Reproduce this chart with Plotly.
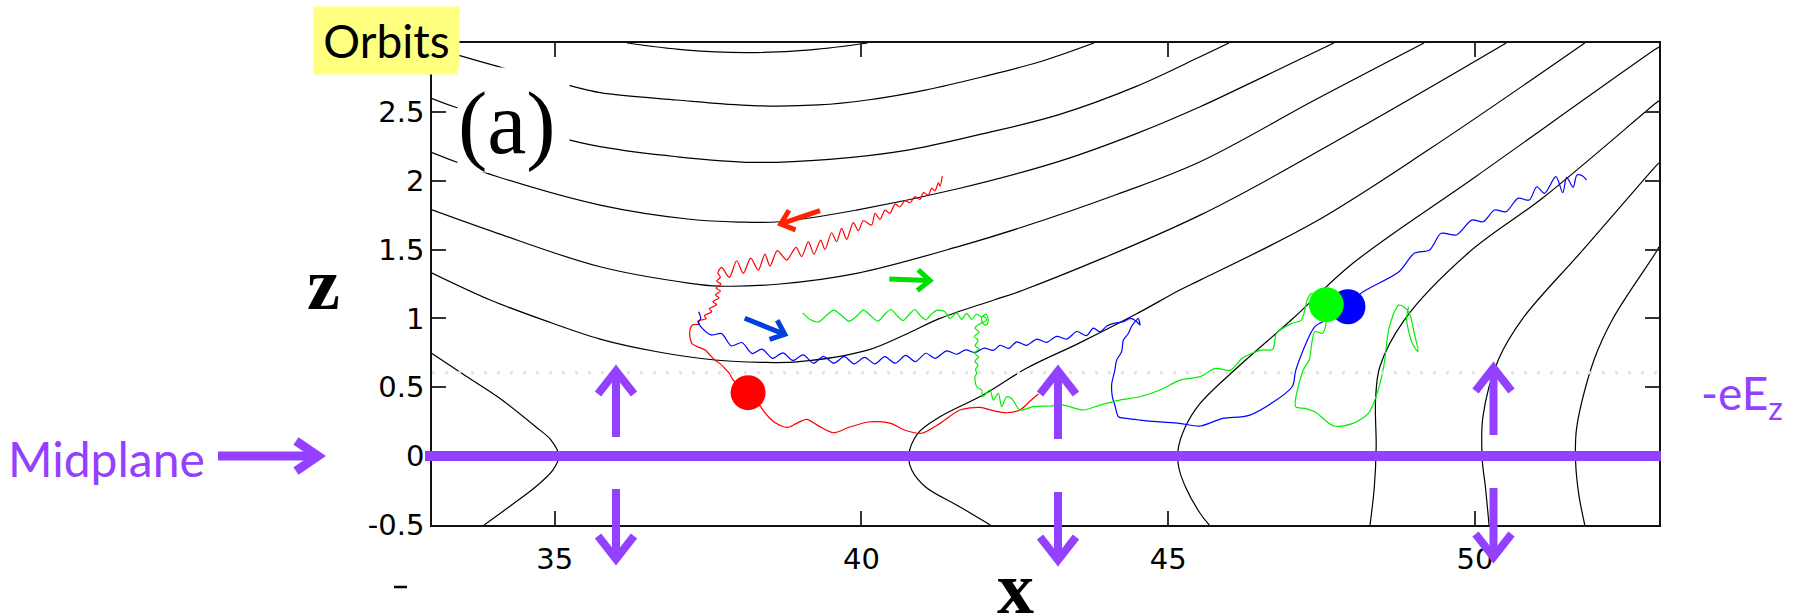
import plotly.graph_objects as go

# ---------------- axes ----------------
X_RANGE = [33, 53]
Y_RANGE = [-0.5, 3.0]
X_TICKS = [35, 40, 45, 50]
Y_TICKS = [-0.5, 0, 0.5, 1, 1.5, 2, 2.5]
Y_TICK_TEXT = ["-0.5", "0", "0.5", "1", "1.5", "2", "2.5"]

# ---------------- magnetic field lines (x, z) ----------------
field_line_top = [(36.18, 3.0), (37.11, 2.95), (38.11, 2.93), (39.17, 2.95), (40.10, 3.0)]
field_line_1 = [(33.0, 2.97), (33.44, 2.91), (34.07, 2.83), (35.25, 2.69), (35.74, 2.64), (36.99, 2.586),
                (38.23, 2.545), (39.3, 2.55), (40.10, 2.586), (41.04, 2.658), (41.98, 2.755), (42.91, 2.864),
                (43.79, 3.0)]
field_line_2 = [(33.0, 2.597), (33.41, 2.53), (35.25, 2.295), (35.74, 2.247), (36.99, 2.174), (38.23, 2.133),
                (39.48, 2.155), (40.73, 2.22), (41.97, 2.34), (43.22, 2.48), (44.47, 2.683), (45.52, 2.90),
                (45.99, 3.0)]
field_line_3 = [(33.0, 2.205), (33.41, 2.134), (34.07, 2.029), (35.74, 1.823), (37.205, 1.720), (38.0, 1.70),
                (38.672, 1.702), (39.92, 1.787), (41.606, 1.945), (43.22, 2.14), (44.47, 2.34), (45.52, 2.537),
                (46.61, 2.767), (47.70, 3.0)]
field_line_4 = [(33.0, 1.788), (34.07, 1.618), (35.74, 1.375), (37.205, 1.255), (37.667, 1.235), (38.672, 1.25),
                (39.92, 1.327), (41.606, 1.525), (42.60, 1.66), (44.16, 1.90), (45.52, 2.138), (47.39, 2.586),
                (49.17, 3.0)]
field_line_5 = [(33.0, 1.33), (33.95, 1.134), (34.82, 0.988), (35.74, 0.85), (36.67, 0.758), (37.61, 0.698),
                (38.36, 0.681), (38.98, 0.686), (40.10, 0.77), (40.7, 0.88), (41.28, 1.0), (42.16, 1.134),
                (42.64, 1.206), (45.52, 1.750), (48.01, 2.356), (50.51, 3.0)]
field_line_6 = [(33.0, 0.745), (33.57, 0.577), (34.07, 0.431), (34.69, 0.213), (34.94, 0.117), (35.07, 0.0),
                (34.97, -0.101), (34.69, -0.222), (34.26, -0.367), (33.85, -0.5)]
field_line_7 = [(42.10, -0.5), (41.60, -0.367), (41.04, -0.222), (40.82, -0.101), (40.77, 0.0), (40.92, 0.166),
                (41.28, 0.286), (41.98, 0.444), (42.69, 0.638), (43.54, 0.819), (44.47, 1.03), (45.19, 1.206),
                (45.52, 1.278), (47.39, 1.70), (49.26, 2.23), (51.79, 3.0)]
field_line_8 = [(45.67, -0.5), (45.52, -0.415), (45.28, -0.222), (45.17, -0.077), (45.16, 0.044), (45.28, 0.213),
                (45.52, 0.383), (46.14, 0.649), (47.01, 0.99), (48.01, 1.40), (50.01, 2.029), (52.94, 2.954),
                (53.0, 2.97)]
field_line_9 = [(48.29, -0.5), (48.36, -0.222), (48.39, 0.068), (48.38, 0.407), (48.45, 0.649), (48.85, 0.99),
                (49.885, 1.473), (51.13, 1.884), (52.94, 2.56), (53.0, 2.58)]
field_line_10 = [(50.23, -0.5), (50.17, -0.222), (50.12, -0.028), (50.13, 0.286), (50.38, 0.698), (50.78, 1.0),
                 (51.76, 1.497), (52.94, 2.102), (53.0, 2.13)]
field_line_11 = [(51.79, -0.5), (51.69, -0.27), (51.64, -0.028), (51.66, 0.213), (51.94, 0.698), (52.25, 1.0),
                 (52.94, 1.473), (53.0, 1.52)]

# ---------------- particle orbits (x, z) ----------------
red_orbit = [
    (41.318, 2.034), (41.280, 1.961), (41.253, 1.985), (41.198, 1.927), (41.144, 1.944), (41.090, 1.896),
    (41.008, 1.913), (40.954, 1.864), (40.872, 1.884), (40.791, 1.840), (40.709, 1.855), (40.628, 1.811),
    (40.547, 1.830), (40.465, 1.763), (40.383, 1.787), (40.302, 1.719), (40.221, 1.763), (40.166, 1.678),
    (40.030, 1.709), (39.949, 1.637), (39.867, 1.695), (39.759, 1.574), (39.677, 1.654), (39.596, 1.557),
    (39.514, 1.622), (39.405, 1.501), (39.335, 1.569), (39.226, 1.467), (39.134, 1.557), (39.025, 1.448),
    (38.933, 1.516), (38.781, 1.424), (38.629, 1.492), (38.509, 1.380), (38.427, 1.467), (38.319, 1.351),
    (38.194, 1.438), (38.074, 1.327), (37.966, 1.419), (37.846, 1.298), (37.721, 1.371),
    (37.66, 1.33), (37.70, 1.30), (37.64, 1.27), (37.71, 1.25), (37.63, 1.22), (37.70, 1.20), (37.62, 1.17),
    (37.68, 1.15), (37.58, 1.12), (37.64, 1.10), (37.52, 1.07), (37.56, 1.05), (37.44, 1.02), (37.47, 1.00),
    (37.33, 0.98), (37.36, 0.96), (37.24, 0.95), (37.20, 0.89), (37.235, 0.819), (37.30, 0.80),
    (37.453, 0.770), (37.52, 0.74), (37.61, 0.698), (37.70, 0.67), (37.797, 0.625), (37.85, 0.60),
    (37.89, 0.565), (37.98, 0.52), (38.15, 0.46),
    (38.25, 0.42), (38.30, 0.38), (38.358, 0.359), (38.40, 0.33), (38.483, 0.286), (38.60, 0.24),
    (38.795, 0.209), (38.95, 0.24), (39.108, 0.267), (39.30, 0.22), (39.543, 0.170), (39.80, 0.21),
    (40.105, 0.248), (40.30, 0.25), (40.48, 0.238), (40.70, 0.19), (40.979, 0.166), (41.28, 0.238),
    (41.606, 0.335), (41.932, 0.354), (42.15, 0.33), (42.367, 0.315), (42.584, 0.335), (42.75, 0.40),
    (42.883, 0.451)]

blue_orbit = [
    (37.347, 1.049), (37.38, 1.00), (37.34, 0.97), (37.38, 0.94),
    (37.55, 0.88), (37.72, 0.89), (37.88, 0.80), (38.05, 0.825), (38.22, 0.745), (38.38, 0.777),
    (38.55, 0.71), (38.72, 0.75), (38.88, 0.695), (39.05, 0.735), (39.22, 0.675), (39.38, 0.725),
    (39.55, 0.675), (39.72, 0.722), (39.88, 0.67), (40.05, 0.717), (40.22, 0.67), (40.38, 0.722),
    (40.55, 0.675), (40.72, 0.731), (40.88, 0.687), (41.05, 0.747), (41.20, 0.71),
    (41.39, 0.765), (41.55, 0.740), (41.70, 0.772), (41.85, 0.752), (42.00, 0.785), (42.15, 0.768),
    (42.26, 0.805), (42.40, 0.782), (42.53, 0.830), (42.69, 0.805), (42.86, 0.850), (43.02, 0.826),
    (43.18, 0.870), (43.35, 0.850), (43.51, 0.905), (43.67, 0.875), (43.78, 0.930), (43.89, 0.902),
    (44.00, 0.945), (44.11, 0.964), (44.27, 0.976), (44.38, 1.000), (44.49, 0.976), (44.54, 0.952),
    (44.51, 1.000), (44.46, 0.976), (44.40, 0.940), (44.35, 0.891), (44.27, 0.843), (44.24, 0.758),
    (44.16, 0.698), (44.13, 0.625), (44.105, 0.577), (44.08, 0.528), (44.09, 0.431), (44.13, 0.371),
    (44.19, 0.286), (44.32, 0.274), (44.54, 0.262), (44.81, 0.250), (45.19, 0.238), (45.52, 0.219),
    (45.89, 0.274), (46.33, 0.298), (47.02, 0.504), (47.08, 0.625), (47.39, 0.940), (47.58, 0.988),
    (47.93, 1.085),
    (48.138, 1.182), (48.762, 1.339), (49.011, 1.473), (49.261, 1.497), (49.448, 1.618), (49.697, 1.606),
    (49.947, 1.714), (50.134, 1.702), (50.321, 1.787), (50.509, 1.775), (50.700, 1.872), (50.887, 1.860),
    (51.008, 1.956), (51.133, 1.908), (51.319, 2.029), (51.432, 1.913), (51.494, 2.024), (51.600, 1.952),
    (51.663, 2.041), (51.756, 2.034), (51.818, 2.005)]

green_orbit = [
    (39.04, 1.04), (39.17, 0.99), (39.30, 0.975), (39.45, 1.03), (39.55, 1.06), (39.68, 1.02), (39.80, 0.98),
    (39.93, 1.02), (40.03, 1.06), (40.15, 1.02), (40.27, 0.98), (40.38, 1.03), (40.48, 1.065), (40.58, 1.02),
    (40.68, 0.985), (40.78, 1.03), (40.87, 1.065), (40.96, 1.02), (41.05, 0.99), (41.14, 1.03), (41.23, 1.06),
    (41.36, 1.049), (41.443, 1.000), (41.552, 1.041), (41.633, 0.993), (41.715, 1.037), (41.796, 0.993),
    (41.878, 1.032), (41.959, 1.012), (42.03, 1.032), (42.068, 0.988), (42.041, 0.952), (41.975, 0.964),
    (41.959, 1.0), (41.99, 1.017), (42.04, 0.988),
    (41.93, 0.96), (41.85, 0.93), (41.92, 0.90), (41.84, 0.87), (41.90, 0.84), (41.85, 0.80), (41.92, 0.78),
    (41.84, 0.75), (41.91, 0.72), (41.85, 0.69), (41.90, 0.66), (41.86, 0.63), (41.88, 0.60), (41.85, 0.577),
    (41.878, 0.504), (41.959, 0.480), (41.975, 0.431), (42.095, 0.480), (42.149, 0.407), (42.231, 0.456),
    (42.285, 0.359), (42.367, 0.431), (42.448, 0.419), (42.584, 0.335), (42.801, 0.359), (43.073, 0.364),
    (43.290, 0.371), (43.616, 0.335), (43.888, 0.371), (44.214, 0.407), (44.540, 0.431), (44.866, 0.480),
    (45.192, 0.552), (45.518, 0.577), (45.768, 0.637), (46.017, 0.625), (46.205, 0.710), (46.516, 0.770),
    (46.703, 0.775), (46.765, 0.892), (47.015, 0.964), (47.171, 0.988), (47.266, 1.134), (47.33, 1.18),
    (47.45, 1.14), (47.577, 0.988), (47.515, 0.892), (47.390, 0.904), (47.297, 0.698), (47.202, 0.625),
    (47.078, 0.359), (47.233, 0.347), (47.390, 0.322), (47.701, 0.219), (48.014, 0.238), (48.263, 0.311),
    (48.387, 0.431), (48.512, 0.649), (48.605, 0.940), (48.762, 1.097), (48.918, 1.049), (49.011, 0.892),
    (49.073, 0.758), (48.980, 0.819), (48.887, 0.988), (48.918, 1.085)]

# ---------------- particle positions ----------------
red_dot = (38.152, 0.461)
blue_dot = (47.93, 1.085)
green_dot = (47.577, 1.10)

FIELD_LINES = [field_line_top, field_line_1, field_line_2, field_line_3, field_line_4, field_line_5,
               field_line_6, field_line_7, field_line_8, field_line_9, field_line_10, field_line_11]

PURPLE = "#9441FF"
W, H = 1800, 616
PL, PR, PT, PB = 432, 1659, 43, 525   # plot-area edges in px


def P(x, y):
    return ((x - PL) / (PR - PL), (PB - y) / (PB - PT))


fig = go.Figure()

for fl in FIELD_LINES:
    fig.add_trace(go.Scatter(x=[p[0] for p in fl], y=[p[1] for p in fl], mode="lines",
                             line=dict(color="black", width=1.2, shape="spline", smoothing=1.0),
                             hoverinfo="skip"))

for orbit, col in [(red_orbit, "#FF0000"), (blue_orbit, "#0000FF"), (green_orbit, "#00EE00")]:
    fig.add_trace(go.Scatter(x=[p[0] for p in orbit], y=[p[1] for p in orbit], mode="lines",
                             line=dict(color=col, width=1.2, shape="spline", smoothing=0.8),
                             hoverinfo="skip"))

for dot, col in [(red_dot, "#FF0000"), (blue_dot, "#0000FF"), (green_dot, "#00FF00")]:
    fig.add_trace(go.Scatter(x=[dot[0]], y=[dot[1]], mode="markers",
                             marker=dict(color=col, size=35, line=dict(width=0)), hoverinfo="skip"))

shapes = []


def seg(x0, y0, x1, y1, color, width, dash=None):
    a, b = P(x0, y0), P(x1, y1)
    shapes.append(dict(type="line", xref="paper", yref="paper", x0=a[0], y0=a[1], x1=b[0], y1=b[1],
                       line=dict(color=color, width=width, dash=dash), layer="above"))


def poly(pts, color, width):
    path = "M " + " L ".join("%.5f,%.5f" % P(x, y) for x, y in pts)
    shapes.append(dict(type="path", xref="paper", yref="paper", path=path,
                       line=dict(color=color, width=width), layer="above"))


# faint dotted level line
seg(PL, 372.7, PR, 372.7, "#e2e2e2", 3, dash="3px,10px")
# midplane
seg(425, 456, 1661, 456, PURPLE, 10)
# Midplane label arrow
seg(218, 456, 316, 456, PURPLE, 9)
poly([(296, 441), (318, 456), (296, 471)], PURPLE, 9)
# -eEz double arrows
for cx, tu, bu, td, tdn in [(616, 363, 437, 489, 567), (1058, 363, 439, 492, 568), (1493.5, 360, 435, 488, 565)]:
    seg(cx, bu, cx, tu + 8, PURPLE, 8)
    poly([(cx - 18, tu + 31), (cx, tu + 8), (cx + 18, tu + 31)], PURPLE, 8)
    seg(cx, td, cx, tdn - 8, PURPLE, 8)
    poly([(cx - 18, tdn - 31), (cx, tdn - 8), (cx + 18, tdn - 31)], PURPLE, 8)
# direction arrows of particles
seg(820, 210.7, 783, 223.2, "#FF2200", 5)
poly([(795.6, 229.8), (780.7, 224), (789, 210.3)], "#FF2200", 5)
seg(889.3, 279, 928, 280.6, "#00DD00", 5)
poly([(918.2, 269.9), (930, 280.7), (917.3, 290.5)], "#00DD00", 5)
seg(744.7, 318.3, 782, 333.2, "#0040E0", 5)
poly([(777.2, 320.2), (784.8, 334.3), (769.6, 339.3)], "#0040E0", 5)
# stray minus mark below axis
seg(394, 587, 407, 587, "black", 2.5)

annotations = []


def ann(x, y, text, size, family, color="black", **kw):
    px, py = P(x, y)
    d = dict(x=px, y=py, xref="paper", yref="paper", text=text, showarrow=False,
             xanchor="center", yanchor="middle", font=dict(size=size, family=family, color=color))
    d.update(kw)
    annotations.append(d)


ann(386.5, 40.5, "Orbits", 46, "Lato", width=145, height=67, bgcolor="#FFFF80", borderpad=0)
ann(513.5, 120, "(a)", 88, "Liberation Serif", width=111, height=104, bgcolor="white", borderpad=0,
    align="left", valign="bottom")
ann(323, 284, "<b>z</b>", 74, "Liberation Serif")
ann(1015, 588, "<b>x</b>", 74, "Liberation Serif")
ann(106, 458, "Midplane", 48, "Lato", PURPLE)
ann(1742, 396, "-eE<sub>z</sub>", 46, "Lato", PURPLE)

axis_common = dict(ticks="inside", ticklen=14, tickwidth=1.5, tickcolor="#333", showline=True,
                   linecolor="#111", linewidth=1.5, mirror="ticks", showgrid=False, zeroline=False,
                   tickfont=dict(family="DejaVu Sans", size=29, color="black"))

fig.update_layout(
    width=W, height=H, autosize=False,
    margin=dict(l=PL, r=W - PR, t=PT, b=H - PB, pad=0),
    paper_bgcolor="white", plot_bgcolor="white",
    showlegend=False, hovermode=False,
    xaxis=dict(range=X_RANGE, tickvals=X_TICKS, ticklabelstandoff=7, **axis_common),
    yaxis=dict(range=Y_RANGE, tickvals=Y_TICKS, ticktext=Y_TICK_TEXT, ticklabelstandoff=0, **axis_common),
    shapes=shapes,
    annotations=annotations,
)

fig.write_html("out.html", config={"displayModeBar": False},
               post_script="document.body.style.margin='0px';document.body.style.overflow='hidden';")
